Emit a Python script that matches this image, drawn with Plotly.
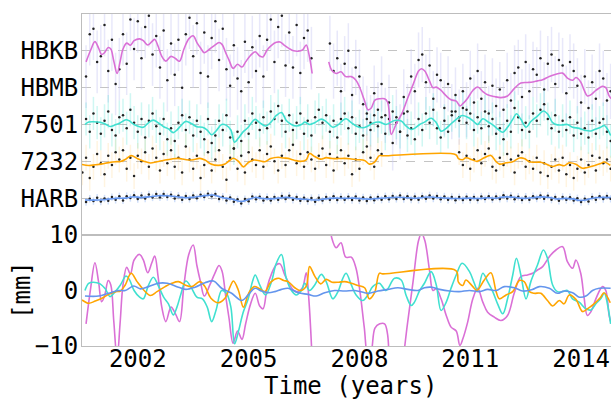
import numpy as np
import plotly.graph_objects as go

# ---- station names and their stacking level in the upper panel (mm) ----
stations = ["HBKB", "HBMB", "7501", "7232", "HARB"]
station_offsets = [80, 60, 40, 20, 0]

# ---- smoothed displacement curves (decimal year, mm) ----
hbkb_t = [2000.60, 2000.72, 2000.84, 2000.94, 2001.02, 2001.10, 2001.20, 2001.27, 2001.35, 2001.44,
          2001.52, 2001.60, 2001.70, 2001.80, 2001.90, 2002.05, 2002.15, 2002.27, 2002.38, 2002.46,
          2002.55, 2002.65, 2002.76, 2002.90, 2003.02, 2003.13, 2003.25, 2003.38, 2003.50, 2003.60,
          2003.70, 2003.80, 2003.95, 2004.08, 2004.20, 2004.28, 2004.38, 2004.47, 2004.58, 2004.70,
          2004.82, 2004.92, 2005.05, 2005.18, 2005.30, 2005.39, 2005.50, 2005.62, 2005.75, 2005.85,
          2005.98, 2006.10, 2006.22, 2006.34, 2006.46, 2006.56, 2006.63, 2006.68, 2006.72]
hbkb_mm = [-6.0, 0.2, 5.0, 1.5, -2.0, -1.0, 1.8, 1.0, -5.5, -12.3,
           -6.0, 1.0, 4.2, 3.0, 5.5, 6.5, 5.5, 3.2, 5.0, 6.2,
           2.5, -3.0, -5.6, -3.0, -4.2, -5.6, 1.0, 6.5, 8.2, 4.5,
           1.5, -1.0, 1.0, 3.0, 4.5, 3.5, -1.0, -5.0, -9.5, -7.3,
           -8.8, -6.0, -2.5, -0.5, -2.8, -3.3, 0.5, 3.0, 4.6, 4.8,
           2.8, 1.2, 0.0, -0.2, 0.5, 3.2, -1.5, -7.0, -12.3]

hbmb_t = [2007.17, 2007.25, 2007.37, 2007.50, 2007.63, 2007.78, 2007.90, 2008.00, 2008.13, 2008.23,
          2008.32, 2008.42, 2008.55, 2008.68, 2008.76, 2008.81, 2008.86, 2009.00, 2009.15, 2009.30,
          2009.45, 2009.60, 2009.68, 2009.77, 2009.90, 2009.99, 2010.08, 2010.21, 2010.35, 2010.48,
          2010.62, 2010.72, 2010.80, 2010.93, 2011.07, 2011.20, 2011.34, 2011.47, 2011.65, 2011.83,
          2012.01, 2012.19, 2012.37, 2012.55, 2012.69, 2012.82, 2012.96, 2013.14, 2013.32, 2013.50,
          2013.63, 2013.77, 2013.86, 2013.99, 2014.08, 2014.17, 2014.26, 2014.40, 2014.58, 2014.67,
          2014.76, 2014.82]
hbmb_mm = [14.0, 9.5, 7.7, 8.6, 6.0, 6.0, 4.2, 0.5, -6.6, -12.0,
           -11.0, -6.8, -6.0, -6.0, -7.8, -14.0, -25.4, -19.5, -14.0, -6.0,
           1.5, 9.0, 10.3, 9.0, 3.5, 0.0, 0.3, -1.5, -4.5, -6.6,
           -7.3, -9.9, -8.7, -5.7, -1.5, 0.4, -2.1, -3.9, -4.8, -5.4,
           -4.5, -0.5, 2.5, 2.8, 3.1, 3.7, 4.3, 6.1, 7.3, 7.9,
           5.2, 4.0, 5.5, 3.1, -1.2, -4.5, -3.9, -1.5, 0.7, 0.0,
           -4.5, -6.0]

s7501_t = [2000.57, 2000.67, 2000.80, 2000.98, 2001.12, 2001.25, 2001.39, 2001.53, 2001.68, 2001.77,
           2001.90, 2002.05, 2002.15, 2002.28, 2002.42, 2002.56, 2002.70, 2002.83, 2002.96, 2003.06,
           2003.16, 2003.30, 2003.45, 2003.60, 2003.75, 2003.88, 2004.00, 2004.12, 2004.27, 2004.40,
           2004.52, 2004.62, 2004.72, 2004.85, 2004.99, 2005.10, 2005.18, 2005.30, 2005.46, 2005.62,
           2005.75, 2005.89, 2006.02, 2006.16, 2006.29, 2006.43, 2006.52, 2006.65, 2006.79, 2006.97,
           2007.10, 2007.28, 2007.42, 2007.55, 2007.64, 2007.78, 2007.91, 2008.09, 2008.23, 2008.36,
           2008.54, 2008.72, 2008.95, 2009.13, 2009.26, 2009.40, 2009.49, 2009.63, 2009.76, 2009.94,
           2010.08, 2010.21, 2010.35, 2010.48, 2010.62, 2010.78, 2010.98, 2011.11, 2011.20, 2011.34,
           2011.47, 2011.61, 2011.74, 2011.88, 2012.01, 2012.15, 2012.25, 2012.37, 2012.51, 2012.64,
           2012.82, 2012.98, 2013.09, 2013.23, 2013.36, 2013.50, 2013.63, 2013.77, 2013.95, 2014.13,
           2014.27, 2014.40, 2014.53, 2014.63, 2014.72, 2014.80]
s7501_mm = [0.0, 1.3, 1.5, 1.2, 0.3, -1.1, -0.2, 1.0, 2.6, 2.0,
            0.0, -1.2, -1.5, 0.8, 2.4, 0.8, -1.2, -2.4, -4.4, -3.0,
            -0.8, 1.7, 0.5, -1.2, -1.5, -3.0, -5.6, -3.5, 0.0, -0.5,
            -3.0, -9.6, -7.5, -4.0, -1.5, 1.5, 2.8, 1.0, -0.8, 1.6,
            4.9, 6.5, 2.2, 0.0, -0.8, 0.0, 1.3, 0.0, 1.0, 2.9,
            1.6, -1.5, -0.2, 2.2, 3.1, 1.0, -0.8, -1.8, -0.8, 0.7,
            1.3, 0.0, 2.2, 1.9, -0.8, -2.7, -2.1, 0.0, 1.3, 3.4,
            1.0, -3.6, -2.1, 0.4, 2.8, 4.9, 3.4, 1.3, 0.0, 3.1,
            1.6, -0.2, -2.4, -4.2, -1.5, 2.8, 5.8, 2.8, -1.5, 1.6,
            4.6, 7.3, 5.8, 1.0, -0.2, -0.2, 0.0, -1.5, -2.1, -3.3,
            -3.5, -2.4, -1.5, -0.5, -2.7, -6.0]

s7232_t = [2000.49, 2000.67, 2000.85, 2001.03, 2001.21, 2001.40, 2001.53, 2001.66, 2001.82, 2001.98,
           2002.16, 2002.34, 2002.52, 2002.74, 2002.92, 2003.10, 2003.28, 2003.46, 2003.68, 2003.82,
           2003.98, 2004.18, 2004.36, 2004.50, 2004.59, 2004.72, 2004.86, 2005.00, 2005.15, 2005.30,
           2005.44, 2005.60, 2005.80, 2005.95, 2006.07, 2006.25, 2006.40, 2006.56, 2006.65, 2006.79,
           2006.95, 2007.10, 2007.26, 2007.44, 2007.60, 2007.78, 2007.96, 2008.14, 2008.27, 2008.41,
           2008.54, 2008.63, 2010.61, 2010.68, 2010.80, 2010.88, 2011.07, 2011.18, 2011.38, 2011.56,
           2011.70, 2011.79, 2011.97, 2012.15, 2012.33, 2012.46, 2012.60, 2012.73, 2012.91, 2013.09,
           2013.23, 2013.41, 2013.54, 2013.68, 2013.86, 2014.04, 2014.17, 2014.35, 2014.53, 2014.62,
           2014.79]
s7232_mm = [-1.7, -2.3, -1.9, -1.4, -0.7, -0.2, -0.1, 1.0, 3.1, 1.6,
            0.1, -0.9, -0.2, 0.7, 1.3, 1.6, 1.0, 0.7, 1.6, 0.7,
            -1.4, -2.2, -1.4, 0.7, 1.7, 0.1, -3.0, -0.5, 0.7, 0.3,
            -0.2, 1.5, 2.2, 1.8, 1.6, 0.5, 0.0, 0.8, 4.3, 2.6,
            1.2, 2.0, 1.5, 1.5, 1.6, 1.3, 0.9, 0.5, -1.5, -0.4,
            3.1, 3.0, 3.6, 1.5, 0.9, 1.9, 0.7, 0.0, 1.9, 3.2,
            -0.2, -1.5, -0.8, -0.2, 1.8, 1.6, -0.2, -0.5, -0.5, -1.8,
            -2.8, -1.8, -2.4, -0.8, -1.6, -3.8, -3.3, -2.4, -1.2, -0.4,
            -2.2]

harb_t = [2000.57, 2000.94, 2001.21, 2001.48, 2001.66, 2001.89, 2002.07, 2002.29, 2002.55, 2002.80,
          2003.10, 2003.30, 2003.55, 2003.82, 2004.05, 2004.27, 2004.54, 2004.81, 2004.99, 2005.17,
          2005.35, 2005.53, 2005.71, 2005.89, 2006.07, 2006.34, 2006.61, 2006.83, 2007.06, 2007.33,
          2007.60, 2007.87, 2008.14, 2008.27, 2008.50, 2008.77, 2009.04, 2009.31, 2009.58, 2009.76,
          2009.94, 2010.17, 2010.44, 2010.70, 2010.98, 2011.25, 2011.47, 2011.70, 2011.92, 2012.19,
          2012.42, 2012.69, 2012.87, 2013.14, 2013.36, 2013.54, 2013.77, 2013.95, 2014.13, 2014.31,
          2014.49, 2014.80]
harb_mm = [-1.0, -1.0, -0.5, 0.0, 0.0, 0.8, 0.3, 0.7, 1.3, 1.3,
           0.6, 0.2, 0.6, 1.4, 1.7, 0.4, -0.5, -1.8, -0.8, 0.4,
           -0.1, -0.4, -0.2, 0.2, 0.4, -0.4, -0.7, -1.0, -0.4, 0.0,
           -0.1, 0.0, -0.4, -0.5, -0.1, 0.2, 0.5, 0.2, 0.0, 0.5,
           0.6, 0.2, -0.1, -0.2, 0.0, -0.2, 0.2, 0.0, 0.7, 0.5,
           -0.1, 0.2, 0.7, 0.4, -0.5, -0.1, -0.4, -1.2, -1.0, 0.0,
           0.4, 0.4]

# ---- solutions sampled every 0.1 yr (mm) ----
sample_step = 0.1
hbkb_obs_start = 2000.6
hbkb_obs = [-14, 9, 12, -6, -3, 14, -11, 6, -18, -10, 9, -7, 17, 1, 16, -4, 13, 19, -2, 8,
            -9, 11, -16, 4, -13, 6, -20, 9, 18, -3, 15, -12, 10, -14, 7, 16, -5, 12, -10, -19,
            3, -15, -22, 5, -17, 2, -11, 8, -14, 6, 17, -6, 13, 19, -8, 10, -9, 14, -12, 7,
            11, -4]
hbmb_obs_start = 2007.2
hbmb_obs = [24, 9, 16, -2, 13, 20, -4, 11, 6, -9, -14, -19, -3, -12, 2, -15, -8, -30, -16, -24,
            -5, -13, 6, -2, 15, 18, 3, 12, -6, 7, 4, -11, 2, -13, -4, -16, -2, -12, 5, -8,
            9, -6, 3, -14, 1, -10, -1, -12, 4, -7, 8, 11, -5, 14, -2, 10, 7, 16, -1, 13,
            18, 2, 15, 12, -3, 14, 9, 1, -8, 6, -11, 3, -6, 9, 5, -7, -2]
s7501_obs_start = 2000.6
s7501_obs = [3, -4, 6, 1, -5, 2, 7, -3, -6, 4, 5, -2, 8, 1, -4, 3, -7, 2, 6, -1,
             -5, 3, -8, -2, -9, 1, 5, -3, 4, -6, 2, -4, -8, 3, -10, -6, 2, -3, 5, -7,
             -13, -4, -9, 2, -5, 6, 1, -3, 4, -2, 7, 3, 10, 2, -4, 5, -3, 1, 6, -5,
             2, -6, 4, 8, 1, 5, -4, 2, -7, 3, 6, -2, 4, -5, -1, -6, 3, -3, 5, -1,
             4, -5, 3, 7, 1, -4, 6, -6, -2, -8, 3, -3, 6, 1, 8, -2, -7, 2, -4, 5,
             7, 2, 9, 1, 6, -3, 4, -2, 7, -1, 3, -5, -2, -8, 2, -4, 9, 4, -3, 1,
             -4, 6, 2, 8, 11, 3, -2, 5, -4, 2, -3, 4, -6, 1, -5, -2, -7, 2, -5, 1,
             3, -4, -9]
s7232_obs_start_a = 2000.5
s7232_obs_a = [-6, 2, -9, -3, 4, -1, -7, 3, -2, 5, 1, 6, -4, 2, -8, 3, 0, 5, -3, 7,
               2, -5, 4, -1, 6, -3, 2, -6, 8, 1, -4, 3, -9, -2, 5, -5, 1, 6, -3, -10,
               2, 7, -4, 3, -6, 5, 1, -2, 6, -3, 4, 8, 0, -5, 3, -2, 6, 9, -1, 4,
               -3, 5, 1, -4, 3, 7, -2, 4, -5, 2, 6, -1, 3, -7, 1, -4, 5, 8, 2, -3,
               6, 4]
s7232_obs_start_b = 2010.7
s7232_obs_b = [5, -2, 3, -4, 1, 6, -1, 4, 7, -3, -5, 2, -2, 4, 1, -6, 3, 5, -3, 0,
               -4, 2, -6, -1, -8, -3, 1, -5, 2, -7, -2, -9, -4, 1, -6, -2, 3, -5, 2, -1,
               1, -4]
harb_obs_start = 2000.6
harb_obs = [-2.1, -0.3, -1.6, 0.2, -1.8, -0.2, -1.4, 0.6, -0.9, 1.0,
            -1.2, 1.1, 0.1, 1.6, -0.5, 1.4, -0.2, 2.0, 0.4, 2.2,
            0.5, 2.3, 0.6, 1.9, -0.2, 1.3, -0.8, 1.2, -0.4, 1.5,
            0.0, 1.9, 0.6, 2.4, 1.0, 2.3, -0.4, 0.8, -1.3, 0.3,
            -2.0, -0.6, -2.9, -0.5, -1.7, 0.9, -0.6, 0.8, -1.2, 0.5,
            -1.3, 0.6, -0.8, 1.2, -0.5, 1.3, -0.9, 0.6, -1.4, 0.2,
            -1.6, 0.1, -2.0, 0.2, -1.3, 0.7, -0.8, 1.0, -1.0, 0.7,
            -0.9, 0.8, -1.0, 0.9, -1.2, 0.4, -1.5, 0.3, -1.1, 0.6,
            -0.8, 1.0, -0.6, 1.2, -0.4, 1.4, -0.5, 1.1, -0.7, 0.9,
            -0.9, 1.1, -0.3, 1.5, -0.2, 1.2, -0.6, 0.9, -0.9, 0.7,
            -1.1, 0.6, -1.0, 0.8, -0.9, 0.6, -1.0, 0.9, -0.5, 1.1,
            -0.7, 0.9, -0.4, 1.6, -0.2, 1.3, -0.6, 0.8, -1.0, 0.8,
            -0.8, 1.1, -0.2, 1.5, -0.3, 1.3, -0.8, 0.6, -1.4, 0.7,
            -0.9, 0.5, -1.3, -0.1, -2.1, -0.3, -1.8, 0.7, -0.8, 1.1,
            -0.5, 1.2, -0.3]

# formal uncertainty (mm) of each station's solutions
obs_sigma = {"HBKB": 17, "HBMB": 15, "7501": 9, "7232": 7, "HARB": 2}

line_color = {"HBKB": "orchid", "HBMB": "orchid", "7501": "turquoise",
              "7232": "orange", "HARB": "cornflowerblue"}
bar_color = {"HBKB": "rgba(205,205,245,0.45)", "HBMB": "rgba(205,205,245,0.45)",
             "7501": "rgba(64,224,208,0.25)", "7232": "rgba(255,165,0,0.12)",
             "HARB": "rgba(100,149,237,0.30)"}

offset = dict(zip(stations, station_offsets))


def epochs(start, values):
    return np.round(start + sample_step * np.arange(len(values)), 3)


obs_sets = [
    ("HBKB", epochs(hbkb_obs_start, hbkb_obs), hbkb_obs),
    ("HBMB", epochs(hbmb_obs_start, hbmb_obs), hbmb_obs),
    ("7501", epochs(s7501_obs_start, s7501_obs), s7501_obs),
    ("7232", epochs(s7232_obs_start_a, s7232_obs_a), s7232_obs_a),
    ("7232", epochs(s7232_obs_start_b, s7232_obs_b), s7232_obs_b),
    ("HARB", epochs(harb_obs_start, harb_obs), harb_obs),
]
curves = [
    ("HBKB", hbkb_t, hbkb_mm),
    ("HBMB", hbmb_t, hbmb_mm),
    ("7501", s7501_t, s7501_mm),
    ("7232", s7232_t, s7232_mm),
    ("HARB", harb_t, harb_mm),
]

FONT = "DejaVu Sans Mono"
LINE = dict(width=1.6, shape="spline", smoothing=1.0)
fig = go.Figure()

# upper panel: error bars, then observations, then smoothed curves
for name, t, v in obs_sets:
    fig.add_trace(go.Scatter(
        x=t, y=np.asarray(v, float) + offset[name], xaxis="x2", yaxis="y2",
        mode="markers", marker=dict(size=2, opacity=0),
        error_y=dict(type="constant", value=obs_sigma[name], color=bar_color[name],
                     thickness=1.5, width=0),
        showlegend=False, hoverinfo="skip"))
for name, t, v in obs_sets:
    fig.add_trace(go.Scatter(
        x=t, y=np.asarray(v, float) + offset[name], xaxis="x2", yaxis="y2",
        mode="markers", marker=dict(size=2.5, color="#222222"),
        showlegend=False, hoverinfo="skip"))
for name, t, v in curves:
    fig.add_trace(go.Scatter(
        x=t, y=np.asarray(v, float) + offset[name], xaxis="x2", yaxis="y2",
        mode="lines", line=dict(color=line_color[name], **LINE),
        showlegend=False, hoverinfo="skip"))

# lower panel: all smoothed curves overlaid, in mm
for name, t, v in curves:
    fig.add_trace(go.Scatter(
        x=t, y=v, xaxis="x", yaxis="y", mode="lines",
        line=dict(color=line_color[name], **LINE),
        showlegend=False, hoverinfo="skip"))

axis_line = "#bdbdbd"
plot_h = 332
split = 111 / plot_h

fig.update_layout(
    width=611, height=400,
    margin=dict(l=82, r=0, t=14, b=54),
    paper_bgcolor="white", plot_bgcolor="white",
    font=dict(family=FONT, size=24, color="black"),
    xaxis=dict(domain=[0, 1], anchor="y", range=[2000.49, 2014.81],
               tickvals=[2002, 2005, 2008, 2011, 2014],
               tickfont=dict(family=FONT, size=24), ticklabelstandoff=-9,
               showline=True, linecolor=axis_line, mirror=True, showgrid=False,
               zeroline=False, ticks=""),
    yaxis=dict(domain=[0, split], anchor="x", range=[-10, 10], tickvals=[-10, 0, 10],
               tickfont=dict(family=FONT, size=24), ticklabelstandoff=-2,
               showline=True, linecolor=axis_line, showgrid=False, zeroline=False, ticks=""),
    xaxis2=dict(domain=[0, 1], anchor="y2", matches="x", showticklabels=False,
                showline=True, linecolor=axis_line, mirror=True, showgrid=False,
                zeroline=False, ticks=""),
    yaxis2=dict(domain=[split, 1], anchor="x2", range=[-20, 100],
                tickvals=station_offsets, ticktext=stations,
                tickfont=dict(family=FONT, size=24), ticklabelstandoff=-2,
                showline=True, linecolor=axis_line, showgrid=True,
                gridcolor="#c4c4c4", griddash="dash", gridwidth=1,
                zeroline=False, ticks=""),
    annotations=[
        dict(text="Time (years)", xref="paper", yref="paper", x=0.507, y=-40 / plot_h,
             xanchor="center", yanchor="middle", showarrow=False, borderpad=0,
             font=dict(family=FONT, size=24, color="black")),
        dict(text="[mm]", xref="paper", yref="paper", x=-60 / 529, y=(346 - 290) / plot_h,
             xanchor="center", yanchor="middle", textangle=-90, showarrow=False,
             font=dict(family=FONT, size=24, color="black")),
    ],
)

fig.write_html("out.html")
